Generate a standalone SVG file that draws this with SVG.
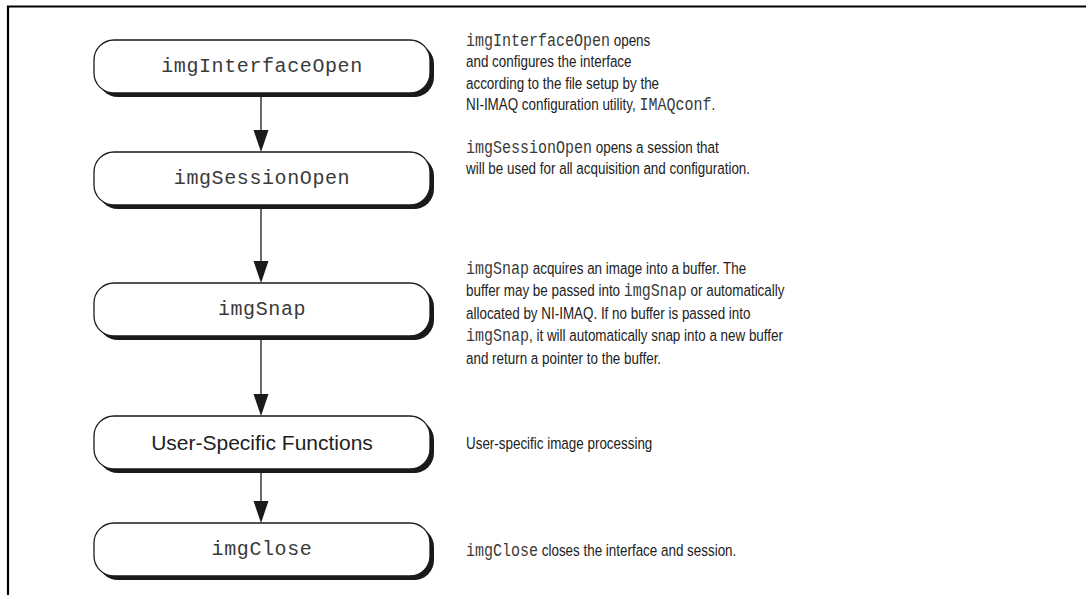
<svg xmlns="http://www.w3.org/2000/svg" width="1086" height="595" viewBox="0 0 1086 595">
<style>
.shadow{fill:#1a1a1a}
.box{fill:#fff;stroke:#1a1a1a;stroke-width:1.3}
.mono{font-family:"Liberation Mono","Courier New",monospace;fill:#3a3a3a}
.node-mono{font-size:20px;letter-spacing:0.6px}
.sans{font-family:"Liberation Sans",Arial,sans-serif;fill:#222}
.desc{font-size:17px}
.desc .code{font-family:"Liberation Mono","Courier New",monospace;font-size:19px;fill:#3a3a3a}
.conn{stroke:#1a1a1a;stroke-width:1.3;fill:none}
.head{fill:#1a1a1a}
</style>
<rect x="0" y="0" width="1086" height="595" fill="#fff"/>
<g id="frame">
<path d="M8,595 V6.5 H1086" fill="none" stroke="#000" stroke-width="2.2"/>
</g>
<g id="connectors">
<line class="conn" x1="261" y1="95" x2="261" y2="135"/>
<polygon class="head" points="253.5,130 268.5,130 261,152"/>
<line class="conn" x1="261" y1="207" x2="261" y2="266"/>
<polygon class="head" points="253.5,261 268.5,261 261,283"/>
<line class="conn" x1="261" y1="338" x2="261" y2="399"/>
<polygon class="head" points="253.5,394 268.5,394 261,416"/>
<line class="conn" x1="261" y1="471" x2="261" y2="506"/>
<polygon class="head" points="253.5,501 268.5,501 261,523"/>
</g>
<g id="node-imgInterfaceOpen">
<rect class="shadow" x="98" y="44" width="336" height="53" rx="20"/>
<rect class="box" x="94" y="40" width="336" height="53" rx="20"/>
<text class="mono node-mono" x="262" y="72" text-anchor="middle">imgInterfaceOpen</text>
</g>
<g id="node-imgSessionOpen">
<rect class="shadow" x="98" y="156" width="336" height="53" rx="20"/>
<rect class="box" x="94" y="152" width="336" height="53" rx="20"/>
<text class="mono node-mono" x="262" y="184" text-anchor="middle">imgSessionOpen</text>
</g>
<g id="node-imgSnap">
<rect class="shadow" x="98" y="287" width="336" height="53" rx="20"/>
<rect class="box" x="94" y="283" width="336" height="53" rx="20"/>
<text class="mono node-mono" x="262" y="315" text-anchor="middle">imgSnap</text>
</g>
<g id="node-user-specific">
<rect class="shadow" x="98" y="420" width="336" height="53" rx="20"/>
<rect class="box" x="94" y="416" width="336" height="53" rx="20"/>
<text class="sans" font-size="21" x="262" y="450" text-anchor="middle">User-Specific Functions</text>
</g>
<g id="node-imgClose">
<rect class="shadow" x="98" y="527" width="336" height="53" rx="20"/>
<rect class="box" x="94" y="523" width="336" height="53" rx="20"/>
<text class="mono node-mono" x="262" y="555" text-anchor="middle">imgClose</text>
</g>
<g id="desc-interface" class="sans desc" transform="translate(466 0) scale(0.79 1)">
<text x="0" y="46"><tspan class="code">imgInterfaceOpen</tspan> opens</text>
<text x="0" y="67.5">and configures the interface</text>
<text x="0" y="89">according to the file setup by the</text>
<text x="0" y="110.5">NI-IMAQ configuration utility, <tspan class="code">IMAQconf</tspan>.</text>
</g>
<g id="desc-session" class="sans desc" transform="translate(466 0) scale(0.79 1)">
<text x="0" y="153"><tspan class="code">imgSessionOpen</tspan> opens a session that</text>
<text x="0" y="174.5">will be used for all acquisition and configuration.</text>
</g>
<g id="desc-snap" class="sans desc" transform="translate(466 0) scale(0.79 1)">
<text x="0" y="274"><tspan class="code">imgSnap</tspan> acquires an image into a buffer. The</text>
<text x="0" y="296.5">buffer may be passed into <tspan class="code">imgSnap</tspan> or automatically</text>
<text x="0" y="319">allocated by NI-IMAQ. If no buffer is passed into</text>
<text x="0" y="341.5"><tspan class="code">imgSnap</tspan>, it will automatically snap into a new buffer</text>
<text x="0" y="364">and return a pointer to the buffer.</text>
</g>
<g id="desc-user" class="sans desc" transform="translate(466 0) scale(0.79 1)">
<text x="0" y="449">User-specific image processing</text>
</g>
<g id="desc-close" class="sans desc" transform="translate(466 0) scale(0.79 1)">
<text x="0" y="556"><tspan class="code">imgClose</tspan> closes the interface and session.</text>
</g>
</svg>
